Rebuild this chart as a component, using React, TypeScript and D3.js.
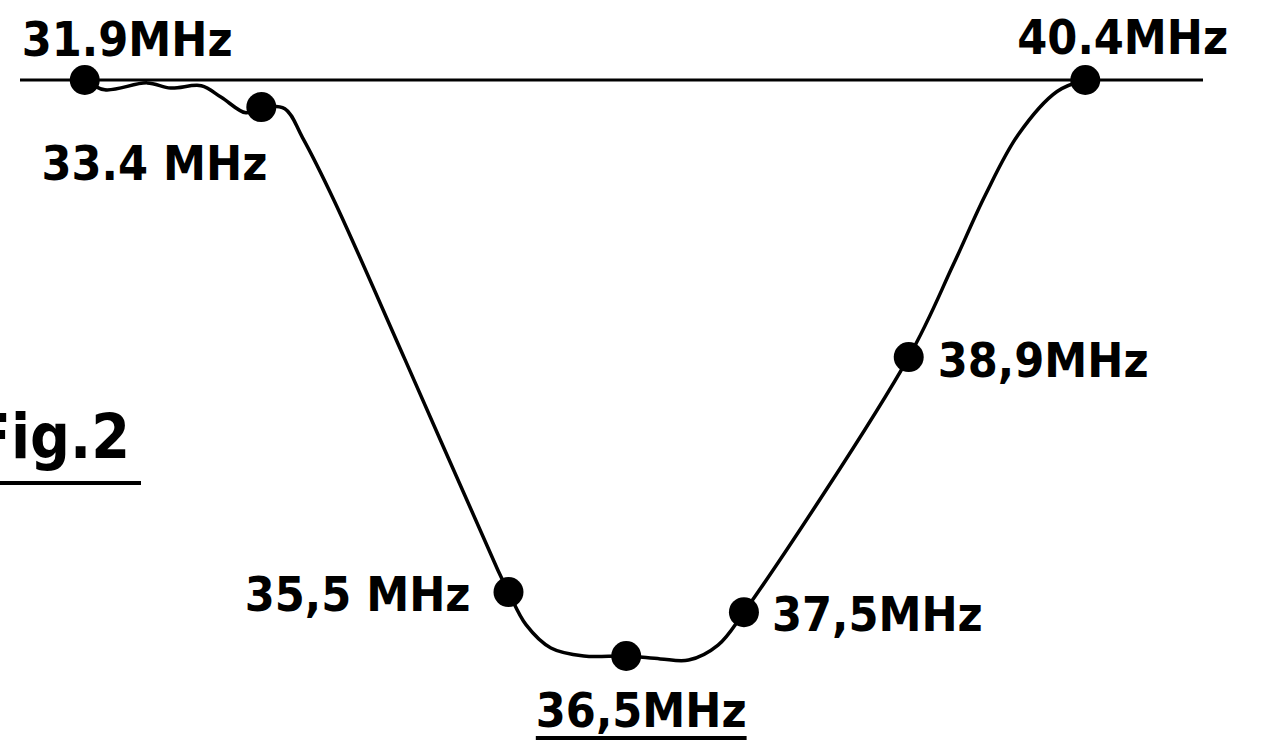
import { useEffect, useRef } from 'react';
import * as d3 from 'd3';

// marked frequencies on the response curve
const markerFreqs = [31.9, 33.4, 35.5, 36.5, 37.5, 38.9, 40.4];
// depth below the reference line, 0 = reference, 100 = bottom at 36.5 MHz
const markerDepths = [0, 4.7, 88.9, 100, 92.4, 48.1, 0];
const markerLabels = ['31.9MHz', '33.4 MHz', '35,5 MHz', '36,5MHz', '37,5MHz', '38,9MHz', '40.4MHz'];

// extra points traced along the drawn curve between the markers
const traceFreqs = [32.07, 32.43, 32.63, 32.89, 33.06, 33.27, 33.6, 33.75, 34.02, 34.62, 35.41, 35.65, 35.86, 36.14, 36.79, 37.03, 37.28, 39.28, 39.55, 39.83, 40.16];
const traceDepths = [1.7, 0.5, 1.4, 1.0, 3.0, 5.7, 5.0, 10.0, 21.0, 48.5, 85.1, 94.6, 98.6, 100, 100.5, 100.7, 98.1, 32, 20, 9.5, 2.0];

// frequency span of the reference line
const freqSpan = [31.35, 41.4];
const depthSpan = [0, 100];

const figureTitle = 'Fig.2';

const W = 1265;
const H = 742;
const FONT = "'DejaVu Sans Condensed', 'DejaVu Sans', sans-serif";

// label placement relative to its marker
const labelPlace: { dx: number; dy: number; anchor: string; underline?: boolean }[] = [
  { dx: -63, dy: -24, anchor: 'start' },
  { dx: 6, dy: 73, anchor: 'end' },
  { dx: -38, dy: 19, anchor: 'end' },
  { dx: 15, dy: 71, anchor: 'middle', underline: true },
  { dx: 28, dy: 19, anchor: 'start' },
  { dx: 29, dy: 20, anchor: 'start' },
  { dx: -68, dy: -26, anchor: 'start' },
];

const App = () => {
  const ref = useRef<SVGSVGElement | null>(null);

  useEffect(() => {
    if (!ref.current) return;
    const svg = d3.select(ref.current);
    svg.selectAll('*').remove();

    const x = d3.scaleLinear().domain(freqSpan).range([20, 1203]);
    const y = d3.scaleLinear().domain(depthSpan).range([80, 656]);

    const points = [
      ...markerFreqs.map((f, i) => ({ f, d: markerDepths[i] })),
      ...traceFreqs.map((f, i) => ({ f, d: traceDepths[i] })),
    ].sort((a, b) => a.f - b.f);

    // reference line
    svg
      .append('line')
      .attr('x1', x(freqSpan[0]))
      .attr('x2', x(freqSpan[1]))
      .attr('y1', y(0))
      .attr('y2', y(0))
      .attr('stroke', '#000')
      .attr('stroke-width', 3);

    const line = d3
      .line<{ f: number; d: number }>()
      .x((p) => x(p.f))
      .y((p) => y(p.d))
      .curve(d3.curveCatmullRom.alpha(0.5));

    svg
      .append('path')
      .attr('d', line(points) ?? '')
      .attr('fill', 'none')
      .attr('stroke', '#000')
      .attr('stroke-width', 3.5)
      .attr('stroke-linejoin', 'round');

    svg
      .append('g')
      .selectAll('circle')
      .data(markerFreqs)
      .enter()
      .append('circle')
      .attr('cx', (f) => x(f))
      .attr('cy', (_, i) => y(markerDepths[i]))
      .attr('r', 15)
      .attr('fill', '#000');

    const labels = svg.append('g');
    markerLabels.forEach((label, i) => {
      const p = labelPlace[i];
      const t = labels
        .append('text')
        .attr('x', x(markerFreqs[i]) + p.dx)
        .attr('y', y(markerDepths[i]) + p.dy)
        .attr('text-anchor', p.anchor)
        .attr('font-family', FONT)
        .attr('font-weight', 'bold')
        .attr('font-size', 48)
        .attr('fill', '#000')
        .text(label);
      if (p.underline) {
        const box = (t.node() as SVGTextElement).getBBox();
        labels
          .append('line')
          .attr('x1', box.x)
          .attr('x2', box.x + box.width)
          .attr('y1', y(markerDepths[i]) + p.dy + 11)
          .attr('y2', y(markerDepths[i]) + p.dy + 11)
          .attr('stroke', '#000')
          .attr('stroke-width', 4);
      }
    });

    // figure title, its first letter runs off the left edge as in the original
    svg
      .append('text')
      .attr('x', 130)
      .attr('y', 458)
      .attr('text-anchor', 'end')
      .attr('font-family', FONT)
      .attr('font-weight', 'bold')
      .attr('font-size', 62)
      .attr('fill', '#000')
      .text(figureTitle);
    svg
      .append('line')
      .attr('x1', 0)
      .attr('x2', 141)
      .attr('y1', 483)
      .attr('y2', 483)
      .attr('stroke', '#000')
      .attr('stroke-width', 4);
  }, []);

  return (
    <svg
      ref={ref}
      width={W}
      height={H}
      viewBox={`0 0 ${W} ${H}`}
      style={{ position: 'absolute', left: 0, top: 0, background: '#fff' }}
      role="img"
      aria-label="Frequency response curve"
    />
  );
};

export default App;
